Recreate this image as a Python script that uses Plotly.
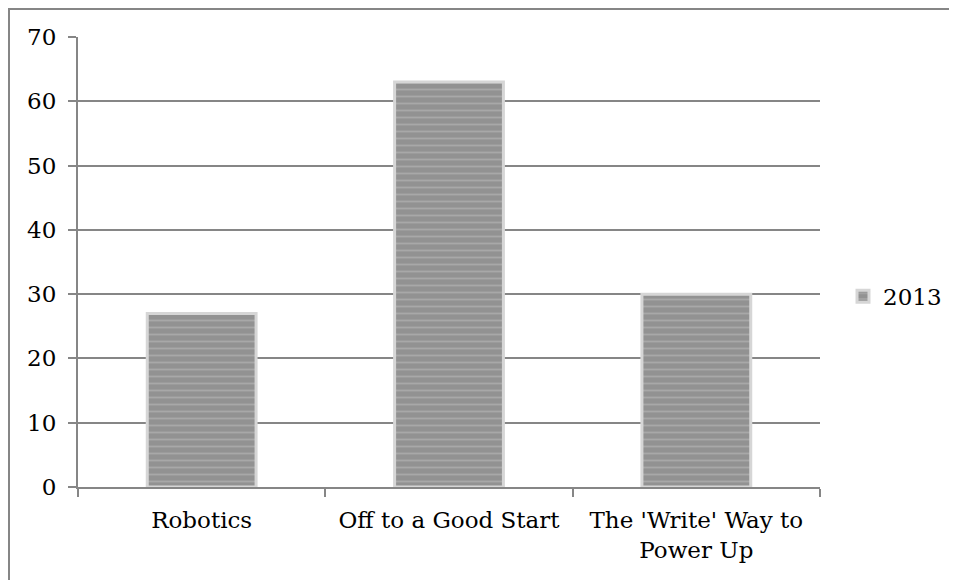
import plotly.graph_objects as go

categories = ["Robotics", "Off to a Good Start", "The 'Write' Way to<br>Power Up"]
values_2013 = [27, 63, 30]
series_name = "2013"
y_ticks = [0, 10, 20, 30, 40, 50, 60, 70]

FONT = "'DejaVu Serif', serif"
GRID = "#868686"
FS = 23

W, H = 957, 580
ML, MR, MT, MB = 70, 145, 29, 101
PW, PH = W - ML - MR, H - MT - MB

fig = go.Figure()
fig.add_trace(go.Bar(
    x=categories,
    y=values_2013,
    name=series_name,
    marker=dict(
        color="#9a9a9a",
        line=dict(color="#d6d6d6", width=3),
        pattern=dict(shape="-", fgcolor="#bdbdbd", bgcolor="#929292", size=7, solidity=0.25),
    ),
    showlegend=True,
))

fig.update_layout(
    width=W, height=H,
    margin=dict(l=ML, r=MR, t=MT, b=MB, pad=0),
    paper_bgcolor="white", plot_bgcolor="white",
    bargap=0.56,
    font=dict(family=FONT, size=FS, color="black"),
    showlegend=True,
    legend=dict(x=1.031, y=0.424, xanchor="left", yanchor="middle",
                font=dict(family=FONT, size=FS, color="black"),
                itemwidth=30, bgcolor="rgba(0,0,0,0)"),
    xaxis=dict(
        type="category", showgrid=False, showline=True, linecolor=GRID, linewidth=2,
        ticks="outside", tickson="boundaries", ticklen=8, tickcolor=GRID, tickwidth=2,
        ticklabelstandoff=11,
        tickfont=dict(family=FONT, size=FS, color="black"),
    ),
    yaxis=dict(
        range=[0, 70], tickvals=y_ticks, showgrid=True, gridcolor=GRID, gridwidth=1.5,
        showline=True, linecolor=GRID, linewidth=2, zeroline=False,
        ticks="outside", ticklen=8, tickcolor=GRID, tickwidth=2,
        ticklabelstandoff=7,
        tickfont=dict(family=FONT, size=FS, color="black"),
    ),
    shapes=[
        dict(type="rect", xref="paper", yref="paper",
             x0=(1 - ML) / PW, y0=-0.3, x1=1.3, y1=(H - MB - 1) / PH,
             line=dict(color=GRID, width=2), fillcolor="rgba(0,0,0,0)", layer="below"),
    ],
)

fig.write_html("out.html")
